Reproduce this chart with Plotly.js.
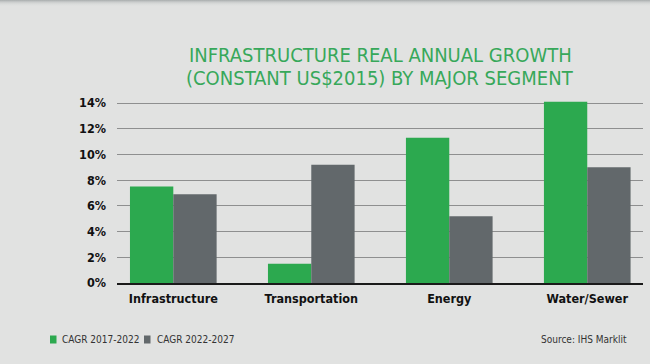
<!DOCTYPE html>
<html>
<head>
<meta charset="utf-8">
<script src="https://cdn.plot.ly/plotly-3.0.1.min.js"></script>
<style>
  html, body { margin:0; padding:0; }
  body {
    width:650px; height:364px; overflow:hidden;
    background: linear-gradient(to bottom, #a8adad 0px, #c9cccc 2px, #dadcdb 4px, #e1e2e1 6px, #e1e2e1 100%);
  }
  #chart { width:650px; height:364px; }
</style>
</head>
<body>
<div id="chart"></div>
<script>
// ---- data ----
const categories = ["Infrastructure", "Transportation", "Energy", "Water/Sewer"];
const seriesNames = ["CAGR 2017-2022", "CAGR 2022-2027"];
const cagr2017_2022 = [7.5, 1.5, 11.3, 14.1];
const cagr2022_2027 = [6.9, 9.2, 5.2, 9.0];
const yTickValues = [0, 2, 4, 6, 8, 10, 12, 14];
const yTickLabels = ["0%", "2%", "4%", "6%", "8%", "10%", "12%", "14%"];
const titleLines = ["INFRASTRUCTURE REAL ANNUAL GROWTH", "(CONSTANT US$2015) BY MAJOR SEGMENT"];
const sourceText = "Source: IHS Marklit";

// ---- styles ----
const GREEN = "#2ca94f";
const GRAY = "#62686b";
const NARROW = "'DejaVu Sans Condensed', 'Liberation Sans', sans-serif";

const traces = [
  { type: "bar", x: categories, y: cagr2017_2022, name: seriesNames[0],
    marker: { color: GREEN }, hoverinfo: "skip", showlegend: false },
  { type: "bar", x: categories, y: cagr2022_2027, name: seriesNames[1],
    marker: { color: GRAY }, hoverinfo: "skip", showlegend: false }
];

const W = 650, H = 364;
const margin = { l: 117, r: 7, t: 101, b: 81, pad: 0 };
const plotH = H - margin.t - margin.b;
function py(pix) { return (H - margin.b - pix) / plotH; }           // pixel-y -> paper y
const plotW = W - margin.l - margin.r;
function px(pix) { return (pix - margin.l) / plotW; }               // pixel-x -> paper x

const TITLE_FONT = { family: NARROW, size: 20, color: "#37a85a" };
const NOTE_FONT = { family: NARROW, size: 10, color: "#333333" };

const annotations = [
  { text: titleLines[0], xref: "paper", yref: "paper", x: 0.5, y: py(54.5),
    xanchor: "center", yanchor: "middle", showarrow: false, borderpad: 0, font: TITLE_FONT },
  { text: titleLines[1], xref: "paper", yref: "paper", x: 0.5, y: py(77.5),
    xanchor: "center", yanchor: "middle", showarrow: false, borderpad: 0, font: TITLE_FONT },
  { text: seriesNames[0], xref: "paper", yref: "paper", x: px(60), y: py(339.5),
    xanchor: "left", yanchor: "middle", showarrow: false, font: NOTE_FONT },
  { text: seriesNames[1], xref: "paper", yref: "paper", x: px(154.5), y: py(339.5),
    xanchor: "left", yanchor: "middle", showarrow: false, font: NOTE_FONT },
  { text: sourceText, xref: "paper", yref: "paper", x: px(629), y: py(339.5),
    xanchor: "right", yanchor: "middle", showarrow: false, font: NOTE_FONT }
];

const shapes = [
  { type: "rect", xref: "paper", yref: "paper", x0: px(50), x1: px(56.5), y0: py(343.5), y1: py(335.5),
    fillcolor: GREEN, line: { width: 0 } },
  { type: "rect", xref: "paper", yref: "paper", x0: px(144), x1: px(150.5), y0: py(343.5), y1: py(335.5),
    fillcolor: GRAY, line: { width: 0 } }
];

const layout = {
  width: W, height: H,
  margin: margin,
  paper_bgcolor: "rgba(0,0,0,0)",
  plot_bgcolor: "rgba(0,0,0,0)",
  barmode: "group",
  bargap: 0.372,
  bargroupgap: 0,
  showlegend: false,
  xaxis: {
    type: "category",
    range: [-0.408, 3.404],
    showgrid: false,
    zeroline: false,
    showline: true, linecolor: "#1a1a1a", linewidth: 2,
    ticks: "",
    ticklabelstandoff: 3,
    tickfont: { family: NARROW, size: 12.5, color: "#111111", weight: "bold" },
    fixedrange: true
  },
  yaxis: {
    range: [0, 14.16],
    tickmode: "array",
    tickvals: yTickValues,
    ticktext: yTickLabels,
    showgrid: true, gridcolor: "#8e8f8f", gridwidth: 1,
    zeroline: false,
    showline: false,
    ticks: "",
    ticklabelstandoff: 10,
    tickfont: { family: NARROW, size: 12.5, color: "#111111", weight: "bold" },
    fixedrange: true
  },
  annotations: annotations,
  shapes: shapes,
  font: { family: NARROW }
};

Plotly.newPlot("chart", traces, layout, { displayModeBar: false, staticPlot: true });
</script>
</body>
</html>
